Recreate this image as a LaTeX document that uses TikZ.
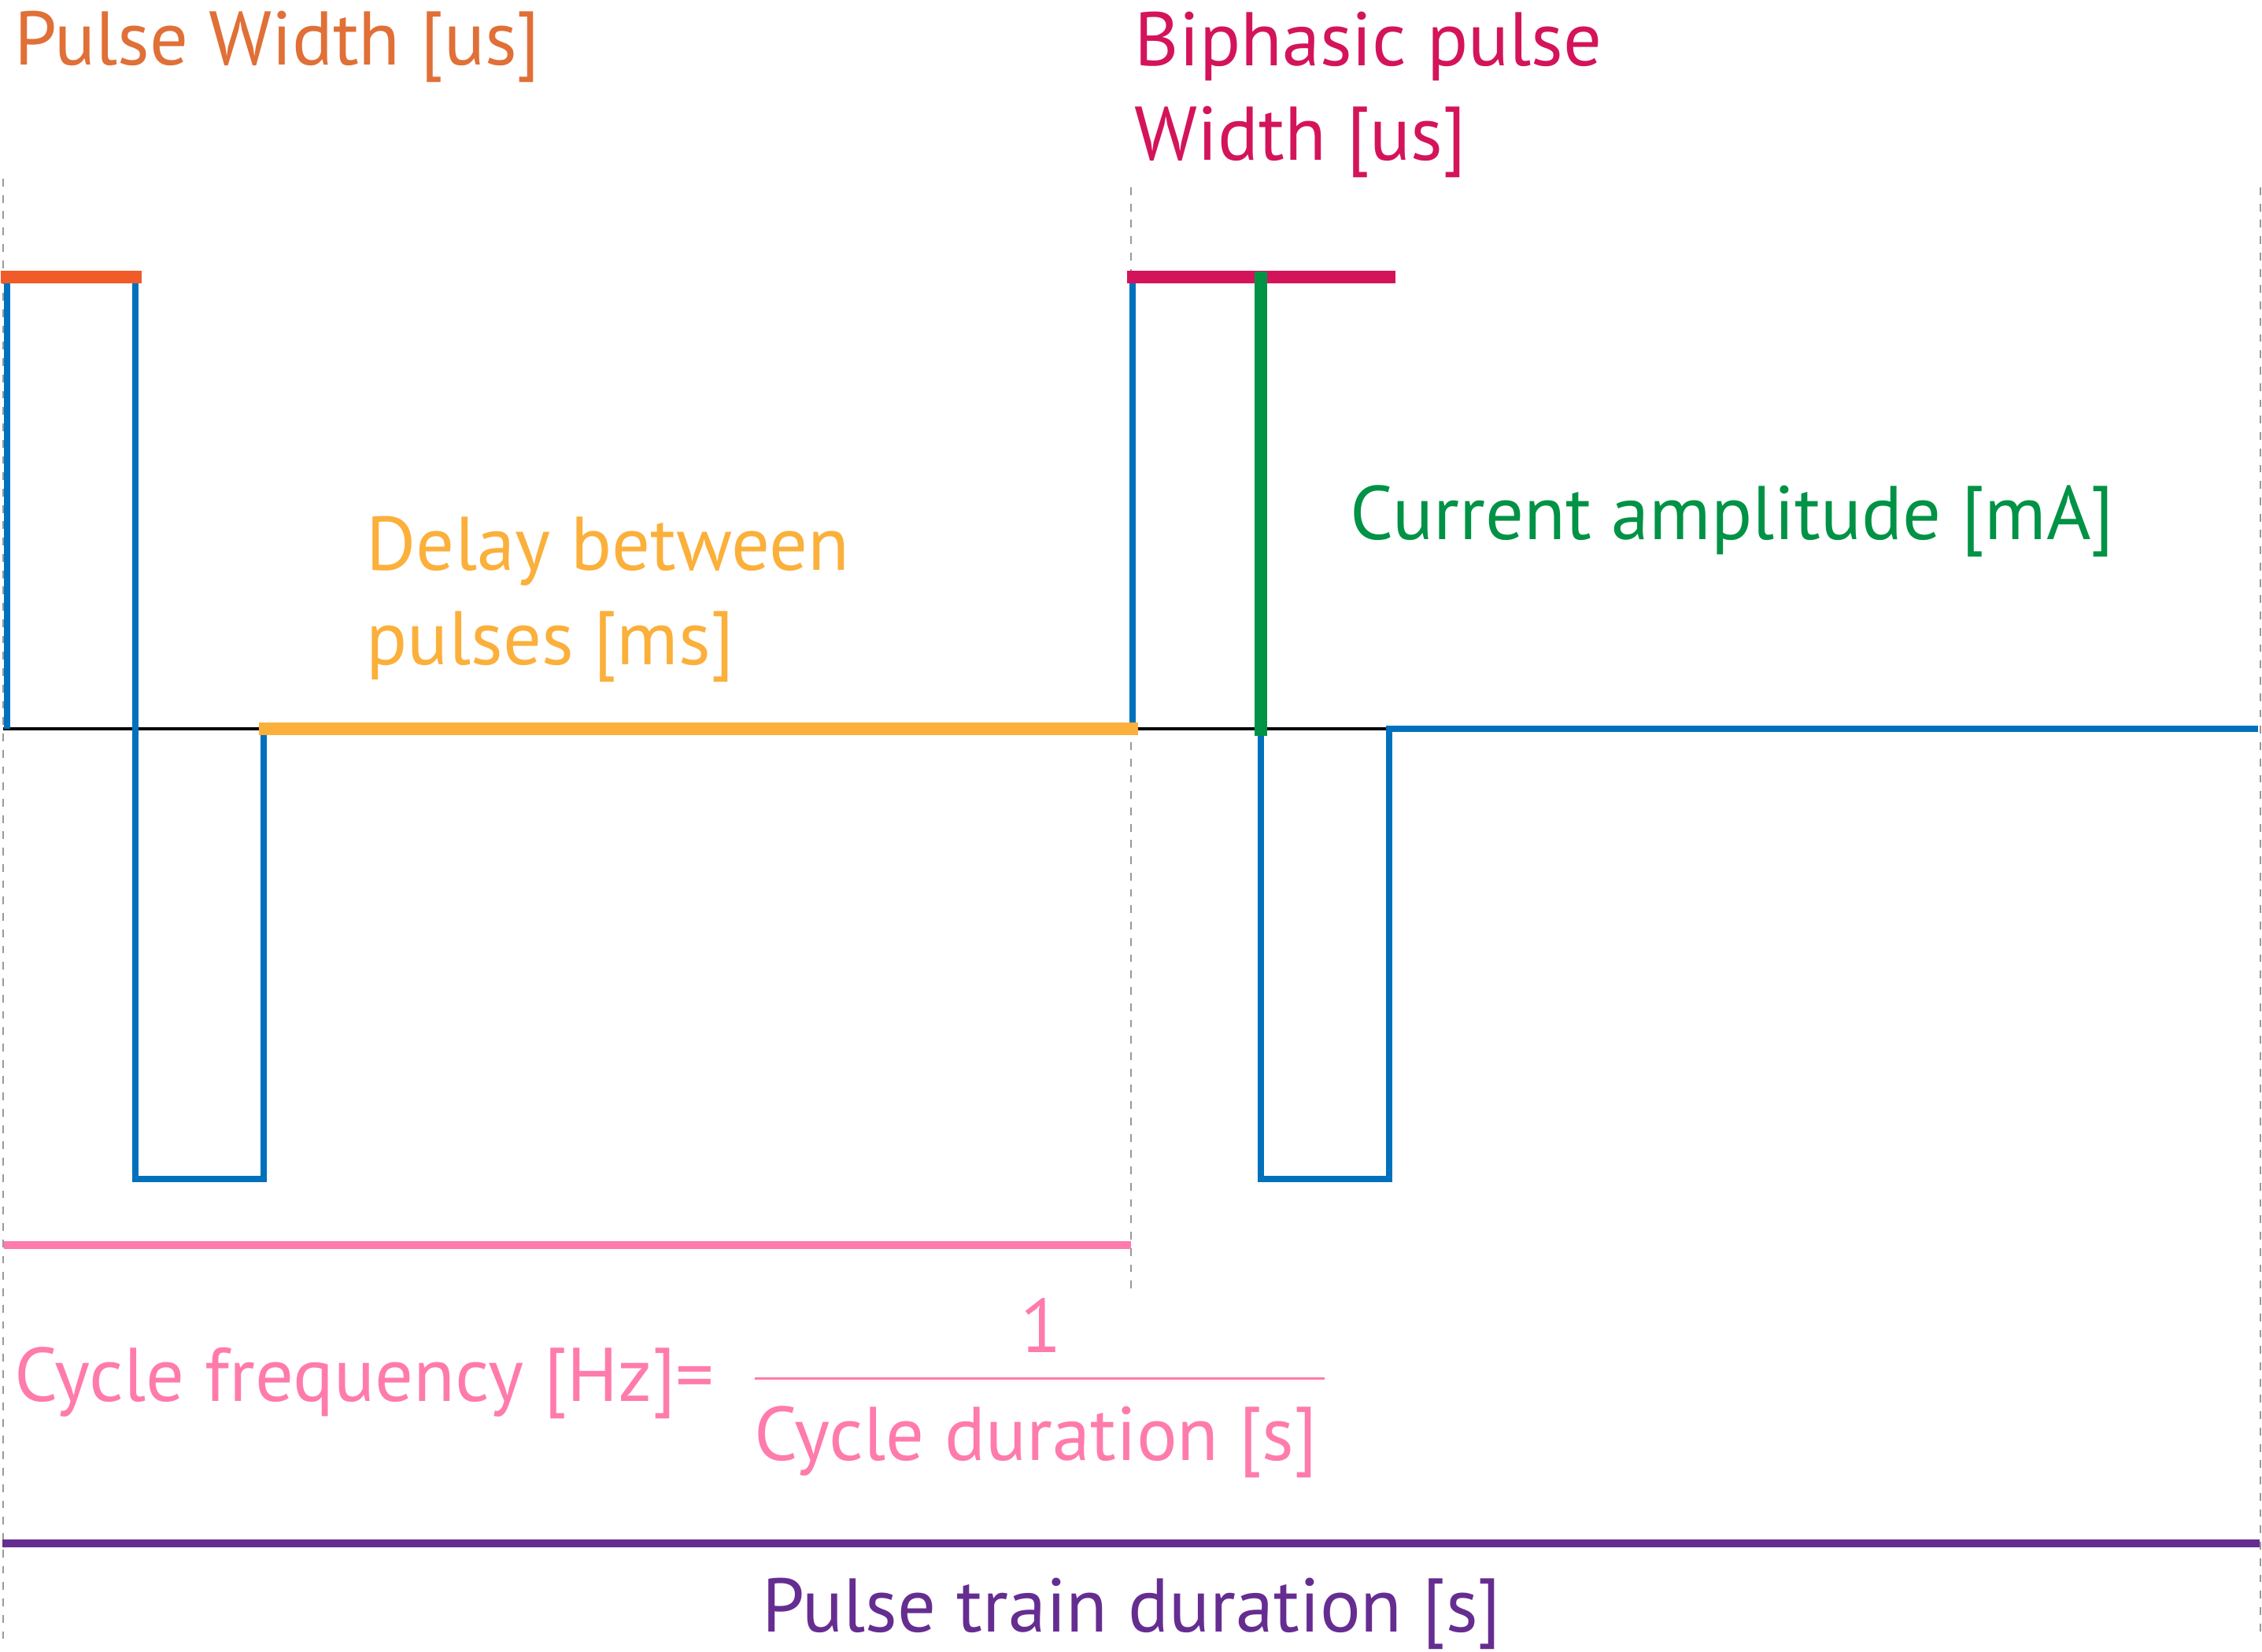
\documentclass[tikz,border=0pt]{standalone}
\usepackage{fontspec}
\setmainfont{PT Sans}
\usepackage{xcolor}
\usetikzlibrary{positioning}

\definecolor{wave}{HTML}{0071BC}
\definecolor{pwbar}{HTML}{F15A29}
\definecolor{pwtext}{HTML}{E07037}
\definecolor{biphasic}{HTML}{D4145A}
\definecolor{amplitude}{HTML}{009245}
\definecolor{delay}{HTML}{FBB03B}
\definecolor{cycle}{HTML}{FF7BAC}
\definecolor{train}{HTML}{662D91}
\definecolor{guidegray}{HTML}{999999}

\begin{document}
\begin{tikzpicture}[
    lbl/.style={font=\fontsize{27.5}{34.4}\selectfont, inner sep=0pt, anchor=base west, align=left},
    bar/.style={line width=4.6pt},
    span/.style={line width=2.8pt},
    guide/.style={draw=guidegray, line width=0.7pt, dash pattern=on 2.8pt off 3.1pt}]
\useasboundingbox (0,0) rectangle (28.74,-20.99);

% vertical guides
\draw[guide] (0.04,-2.27) -- (0.04,-20.83);
\draw[guide] (14.37,-2.38) -- (14.37,-16.48);
\draw[guide] (28.72,-2.38) -- (28.72,-20.83);

% zero line
\draw[line width=1.1pt] (0.04,-9.26) -- (17.65,-9.26);

% biphasic pulses
\draw[wave, line width=2.3pt] (0.09,-9.26) -- (0.09,-3.52) -- (1.72,-3.52)
    -- (1.72,-14.98) -- (3.35,-14.98) -- (3.35,-9.26);
\draw[wave, line width=2.3pt] (14.39,-9.26) -- (14.39,-3.52) -- (16.02,-3.52)
    -- (16.02,-14.98) -- (17.65,-14.98) -- (17.65,-9.26) -- (28.69,-9.26);

% parameter bars
\draw[bar, pwbar] (0.01,-3.52) -- (1.80,-3.52);
\draw[bar, biphasic] (14.32,-3.52) -- (17.73,-3.52);
\draw[amplitude, line width=4.8pt] (16.02,-3.45) -- (16.02,-9.35);
\draw[bar, delay] (3.29,-9.26) -- (14.46,-9.26);
\draw[span, cycle] (0.05,-15.82) -- (14.37,-15.82);
\draw[span, train] (0.03,-19.61) -- (28.71,-19.61);

% labels (base of a two-line label is its last line)
\node[lbl, pwtext] (pw) at (0.18,-0.83) {Pulse Width [us]};
\node[lbl, biphasic] (bpw) at (14.41,-2.04) {Biphasic pulse\\Width [us]};
\node[lbl, amplitude] (amp) at (17.15,-6.85) {Current amplitude [mA]};
\node[lbl, delay] (dly) at (4.65,-8.45) {Delay between\\pulses [ms]};
\node[lbl, cycle] (freq) at (0.18,-17.80) {Cycle frequency [Hz]=};
\node[lbl, cycle, anchor=base] (one) at (13.23,-17.18) {1};
\node[lbl, cycle] (dur) at (9.58,-18.55) {Cycle duration [s]};
\draw[cycle, line width=0.85pt] (9.59,-17.51) -- (16.83,-17.51);
\node[lbl, train, anchor=base] (ptd) at (14.38,-20.73) {Pulse train duration [s]};
\end{tikzpicture}
\end{document}
